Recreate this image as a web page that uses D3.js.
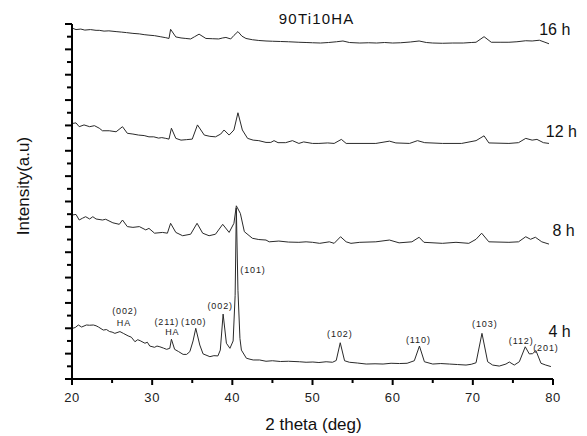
<!DOCTYPE html>
<html><head><meta charset="utf-8">
<script src="https://cdn.jsdelivr.net/npm/d3@7"></script>
<style>body{margin:0;background:#fff} svg{display:block}</style>
</head><body>
<svg id="chart" width="587" height="436"></svg>
<script>
// ---- data (2θ in degrees, intensity in stacked arbitrary units) ----
const chartTitle = "90Ti10HA";
const xLabel = "2 theta (deg)";
const yLabel = "Intensity(a.u)";
const xTicks = [20, 30, 40, 50, 60, 70, 80];
const xMinorTicks = [25, 35, 45, 55, 65, 75];
const yTicks = [0,1,2,3,4,5,6,7,8,9,10,11,12,13,14];
const yMinorTicks = [0.5,1.5,2.5,3.5,4.5,5.5,6.5,7.5,8.5,9.5,10.5,11.5,12.5,13.5];

const series4h = [[20.08,2.0],[20.4,2.03],[20.79,2.13],[21.2,2.05],[21.8,2.13],[22.2,2.12],[22.66,2.13],[23.0,2.10],[23.3,2.05],[23.9,1.93],[24.3,1.95],[24.7,1.87],[25.0,1.85],[25.35,1.80],[25.98,1.87],[26.4,1.80],[27.0,1.70],[27.4,1.65],[27.85,1.47],[28.2,1.55],[28.5,1.51],[29.1,1.41],[29.4,1.45],[29.7,1.30],[30.3,1.25],[30.6,1.30],[30.96,1.27],[31.4,1.22],[31.8,1.17],[32.2,1.21],[32.4,1.57],[32.8,1.17],[33.3,1.08],[33.86,0.97],[34.3,0.97],[34.7,1.08],[35.1,1.5],[35.44,2.0],[35.94,1.34],[36.35,0.99],[37.2,0.88],[37.7,0.92],[38.2,0.91],[38.5,1.14],[38.85,2.56],[39.26,1.41],[39.7,1.21],[40.1,1.50],[40.35,3.3],[40.5,6.74],[40.7,3.5],[40.95,1.6],[41.13,1.14],[41.75,0.82],[42.2,0.78],[42.6,0.75],[43.4,0.75],[44.2,0.70],[45.0,0.72],[46.0,0.69],[47.0,0.70],[48.4,0.68],[49.2,0.66],[50.05,0.67],[50.8,0.65],[51.7,0.68],[52.5,0.66],[52.96,0.73],[53.46,1.43],[54.0,0.72],[54.6,0.66],[55.6,0.63],[56.7,0.59],[57.8,0.60],[58.8,0.59],[59.8,0.62],[60.85,0.61],[61.8,0.62],[62.7,0.72],[63.34,1.30],[63.96,0.68],[65.0,0.59],[66.0,0.61],[67.07,0.59],[68.1,0.57],[69.15,0.55],[69.8,0.58],[70.4,0.64],[71.14,1.80],[71.85,0.68],[72.47,0.55],[73.3,0.51],[74.13,0.59],[74.55,0.67],[75.17,0.55],[75.8,0.68],[76.54,1.27],[77.04,0.99],[77.45,1.0],[77.87,1.12],[78.5,0.62],[79.1,0.55],[79.74,0.49]];

const series8h = [[20.08,6.47],[20.5,6.49],[20.9,6.27],[21.3,6.34],[21.7,6.40],[22.2,6.31],[22.6,6.40],[23.0,6.31],[23.8,6.27],[24.2,6.30],[25.1,6.16],[25.9,6.10],[26.3,6.27],[26.9,6.01],[27.6,5.98],[28.4,6.01],[29.2,5.88],[29.6,5.94],[30.3,5.75],[31.3,5.78],[31.9,5.75],[32.3,6.14],[32.95,5.78],[33.8,5.65],[34.8,5.71],[35.6,6.14],[36.3,5.75],[37.1,5.65],[37.9,5.71],[38.8,6.10],[39.6,5.78],[40.2,6.14],[40.5,6.83],[41.0,6.53],[41.5,5.81],[42.5,5.55],[43.3,5.50],[44.2,5.48],[44.6,5.41],[45.8,5.44],[47.0,5.40],[48.3,5.39],[49.2,5.41],[50.0,5.39],[50.9,5.35],[52.1,5.41],[52.7,5.35],[53.5,5.61],[54.2,5.41],[54.8,5.35],[55.9,5.39],[57.9,5.41],[59.6,5.48],[60.8,5.37],[62.4,5.41],[63.3,5.59],[63.9,5.39],[66.2,5.35],[67.9,5.39],[69.5,5.35],[70.4,5.51],[71.1,5.75],[72.0,5.41],[74.5,5.39],[75.7,5.41],[76.6,5.61],[77.2,5.51],[77.8,5.59],[78.6,5.41],[79.5,5.32]];

const series12h = [[20.08,10.08],[20.5,10.1],[20.9,9.95],[21.5,10.02],[22.2,9.95],[22.8,9.99],[23.4,9.89],[23.8,9.79],[24.65,9.79],[25.5,9.75],[26.3,9.95],[26.9,9.69],[27.6,9.66],[28.3,9.62],[29.0,9.6],[29.6,9.55],[30.2,9.55],[30.8,9.5],[31.2,9.52],[31.7,9.49],[32.1,9.46],[32.4,9.89],[32.95,9.49],[33.6,9.42],[34.3,9.44],[35.0,9.46],[35.65,10.02],[36.5,9.62],[37.2,9.57],[37.9,9.55],[38.55,9.66],[38.97,9.82],[39.6,9.62],[40.2,9.82],[40.7,10.50],[41.25,9.82],[41.9,9.49],[42.6,9.42],[43.3,9.40],[44.2,9.33],[44.8,9.33],[45.2,9.40],[45.7,9.32],[46.65,9.32],[47.5,9.40],[48.3,9.29],[48.9,9.35],[50.0,9.29],[50.8,9.29],[51.9,9.31],[52.7,9.29],[53.6,9.45],[54.2,9.29],[57.9,9.29],[59.6,9.38],[60.4,9.31],[62.1,9.29],[63.1,9.40],[64.0,9.32],[66.2,9.29],[68.6,9.29],[70.4,9.40],[71.4,9.59],[72.0,9.31],[74.5,9.29],[75.7,9.32],[76.6,9.49],[77.4,9.42],[78.0,9.45],[78.8,9.32],[79.5,9.29]];

const series16h = [[20.08,13.83],[20.5,13.78],[21.1,13.80],[21.6,13.76],[22.3,13.78],[23.0,13.75],[23.4,13.75],[24.0,13.72],[24.6,13.73],[25.5,13.70],[26.2,13.68],[26.8,13.66],[27.6,13.63],[28.4,13.61],[29.0,13.58],[29.6,13.56],[30.3,13.54],[31.0,13.50],[31.7,13.46],[32.1,13.43],[32.3,13.79],[32.95,13.49],[33.6,13.45],[34.2,13.43],[34.8,13.41],[35.3,13.50],[35.85,13.60],[36.7,13.43],[37.5,13.42],[38.3,13.41],[38.8,13.45],[39.2,13.47],[39.8,13.41],[40.2,13.55],[40.7,13.70],[41.2,13.52],[41.7,13.43],[42.5,13.38],[43.3,13.35],[44.2,13.33],[45.0,13.32],[46.0,13.31],[47.0,13.30],[48.3,13.28],[49.2,13.27],[50.0,13.26],[51.0,13.25],[52.0,13.27],[53.0,13.30],[53.8,13.33],[54.6,13.27],[55.9,13.25],[57.0,13.26],[58.0,13.25],[59.0,13.27],[60.0,13.25],[61.0,13.26],[62.2,13.29],[63.3,13.33],[64.2,13.27],[65.0,13.25],[66.2,13.24],[67.5,13.25],[68.8,13.25],[69.8,13.27],[70.4,13.28],[71.4,13.50],[72.3,13.28],[73.4,13.28],[74.5,13.28],[75.5,13.30],[76.6,13.34],[77.4,13.33],[78.3,13.36],[79.0,13.28],[79.5,13.22]];

const seriesNames = ["4 h", "8 h", "12 h", "16 h"];
const seriesLabelTheta = [79.44, 79.94, 79.11, 78.28];
const seriesLabelValue = [1.64, 5.64, 9.53, 13.56];

const peakLabels = ["(002)", "HA", "(211)", "HA", "(100)", "(002)", "(101)", "(102)", "(110)", "(103)", "(112)", "(201)"];
const peakLabelTheta = [26.6, 26.48, 31.83, 32.52, 35.19, 38.49, 42.58, 53.41, 63.21, 71.49, 76.04, 79.12];
const peakLabelValue = [2.69, 2.22, 2.25, 1.85, 2.26, 2.88, 4.30, 1.76, 1.54, 2.17, 1.50, 1.23];

// ---- drawing ----
const FONT = "'Liberation Sans', Arial, sans-serif";
const svg = d3.select("#chart");
const x = d3.scaleLinear().domain([20, 80]).range([72, 553]);
const y = d3.scaleLinear().domain([0, 14]).range([379, 24]);

// curves
const line = d3.line().x(d => x(d[0])).y(d => y(d[1]));
[series4h, series8h, series12h, series16h].forEach(s => {
  svg.append("path").datum(s).attr("d", line)
    .attr("fill", "none").attr("stroke", "#2a2a2a").attr("stroke-width", 1)
    .attr("stroke-linejoin", "round");
});

// axes
function styleAxis(g) {
  g.select(".domain").attr("stroke", "#000").attr("stroke-width", 2);
  g.selectAll(".tick line").attr("stroke", "#000").attr("stroke-width", 2);
}
const gxMinor = svg.append("g").attr("transform", "translate(0,379)")
  .call(d3.axisBottom(x).tickValues(xMinorTicks).tickSize(4).tickSizeOuter(0).tickFormat("").offset(0));
styleAxis(gxMinor);
const gx = svg.append("g").attr("transform", "translate(0,379)")
  .call(d3.axisBottom(x).tickValues(xTicks).tickSize(6).tickSizeOuter(0).tickPadding(8).offset(0));
styleAxis(gx);
gx.selectAll("text").attr("font-family", FONT).attr("font-size", 13)
  .attr("fill", "#222").attr("letter-spacing", 0.6);

const gyMinor = svg.append("g").attr("transform", "translate(72,0)")
  .call(d3.axisLeft(y).tickValues(yMinorTicks).tickSize(5).tickSizeOuter(0).tickFormat("").offset(0));
styleAxis(gyMinor);
const gy = svg.append("g").attr("transform", "translate(72,0)")
  .call(d3.axisLeft(y).tickValues(yTicks).tickSize(7).tickSizeOuter(0).tickFormat("").offset(0));
styleAxis(gy);

// titles
svg.append("text").attr("x", 316.7).attr("y", 24).attr("text-anchor", "middle")
  .attr("font-family", FONT).attr("font-size", 15).attr("letter-spacing", 1.2)
  .attr("fill", "#111").text(chartTitle);
svg.append("text").attr("x", 313.5).attr("y", 430).attr("text-anchor", "middle")
  .attr("font-family", FONT).attr("font-size", 17).attr("fill", "#111").text(xLabel);
svg.append("text").attr("transform", "translate(28.5,186) rotate(-90)").attr("text-anchor", "middle")
  .attr("font-family", FONT).attr("font-size", 17).attr("fill", "#111").text(yLabel);

// series labels
seriesNames.forEach((n, i) => {
  svg.append("text").attr("x", x(seriesLabelTheta[i])).attr("y", y(seriesLabelValue[i]))
    .attr("font-family", FONT).attr("font-size", 16).attr("fill", "#111").text(n);
});

// peak labels
peakLabels.forEach((t, i) => {
  svg.append("text").attr("x", x(peakLabelTheta[i])).attr("y", y(peakLabelValue[i]))
    .attr("text-anchor", "middle").attr("dominant-baseline", "central")
    .attr("font-family", FONT).attr("font-size", 9).attr("letter-spacing", 0.9)
    .attr("fill", "#222").text(t);
});
</script>
</body></html>
